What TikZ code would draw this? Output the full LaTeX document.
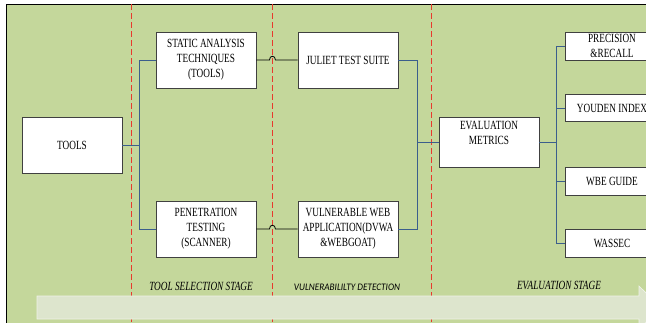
\documentclass[tikz,border=0pt]{standalone}
\usepackage{fontspec}
\setmainfont{Liberation Serif}[FakeStretch=0.74]
\newfontfamily\labelsans{Carlito}[FakeStretch=0.92]
\definecolor{panelgreen}{HTML}{C4D79B}
\definecolor{arrowfill}{HTML}{DDE5CD}
\definecolor{linkblue}{HTML}{3B5E8C}
\definecolor{stagered}{HTML}{E8392E}
\tikzset{
  stagebox/.style={draw=black!75, line width=0.9pt, fill=white, align=center,
    minimum width=100pt, minimum height=56pt, inner sep=0pt,
    font=\fontsize{12.5}{15}\selectfont},
  metricbox/.style={stagebox, minimum width=94pt, minimum height=28pt},
  tree/.style={draw=linkblue, line width=0.8pt},
  hop/.style={draw=black, line width=0.8pt},
  divider/.style={draw=stagered, line width=0.8pt, dash pattern=on 6pt off 3pt},
  stagelabel/.style={font=\fontsize{12.5}{15}\selectfont\itshape}
}
\begin{document}
\begin{tikzpicture}[x=1pt, y=-1pt]
\useasboundingbox (0,0) rectangle (646,322);
\clip (0,0) rectangle (646,322);

\fill[panelgreen] (6,4) rectangle (670,340);
\draw[black, line width=0.8pt] (670,4) -- (6,4) -- (6,340);

\draw[divider] (131,4) -- (131,322);
\draw[divider] (272,4) -- (272,322);
\draw[divider] (431,4) -- (431,322);

\fill[arrowfill, draw=white!55!arrowfill, line width=0.6pt] (37,296) -- (639,296) -- (639,286) -- (661,307.5) -- (639,329) -- (639,319) -- (37,319) -- cycle;

\node[stagebox] (tools) at (72,145) {TOOLS};
\node[stagebox] (static) at (206,60) {STATIC ANALYSIS\\TECHNIQUES\\(TOOLS)};
\node[stagebox] (pentest) at (206,229) {PENETRATION\\TESTING\\(SCANNER)};
\node[stagebox] (juliet) at (348,60) {JULIET TEST SUITE};
\node[stagebox] (webapp) at (348,229) {VULNERABLE WEB\\APPLICATION(DVWA\\\&WEBGOAT)};
\node[stagebox, minimum height=50pt] (eval) at (489,142) {};
\node[anchor=north, align=center, inner sep=0pt, font=\fontsize{12.5}{15}\selectfont] (evaltext) at ([yshift=-4.5pt]eval.north) {EVALUATION\\METRICS};
\node[metricbox] (precision) at (612,46) {PRECISION\\\&RECALL};
\node[metricbox, minimum height=27pt] (youden) at (612,108) {YOUDEN INDEX};
\node[metricbox] (wbe) at (612,181) {WBE GUIDE};
\node[metricbox] (wassec) at (612,243) {WASSEC};

\coordinate (busA) at (139,145);
\coordinate (busB) at (417,142);
\coordinate (busC) at (556,142);

\draw[tree] (tools.east) -- (busA);
\draw[tree] (static.west) -| (busA);
\draw[tree] (pentest.west) -| (busA);

\draw[hop] (static.east) -- ++(13,0) .. controls +(0,-5) and +(0,-5) .. ++(6,0) -- (juliet.west);
\draw[hop] (pentest.east) -- ++(13,0) .. controls +(0,-5) and +(0,-5) .. ++(6,0) -- (webapp.west);

\draw[tree] (juliet.east) -| (busB);
\draw[tree] (webapp.east) -| (busB);
\draw[tree] (busB) -- (eval.west);

\draw[tree] (eval.east) -- (busC);
\draw[tree] (precision.west) -| (busC);
\draw[tree] (youden.west) -| (busC);
\draw[tree] (wbe.west) -| (busC);
\draw[tree] (wassec.west) -| (busC);

\node[stagelabel] (selectlabel) at (201,286) {TOOL SELECTION STAGE};
\node[font=\labelsans\fontsize{10}{12}\selectfont\itshape] (detectlabel) at (347,287) {VULNERABILILTY DETECTION};
\node[stagelabel] (evallabel) at (559,285) {EVALUATION STAGE};
\end{tikzpicture}
\end{document}
